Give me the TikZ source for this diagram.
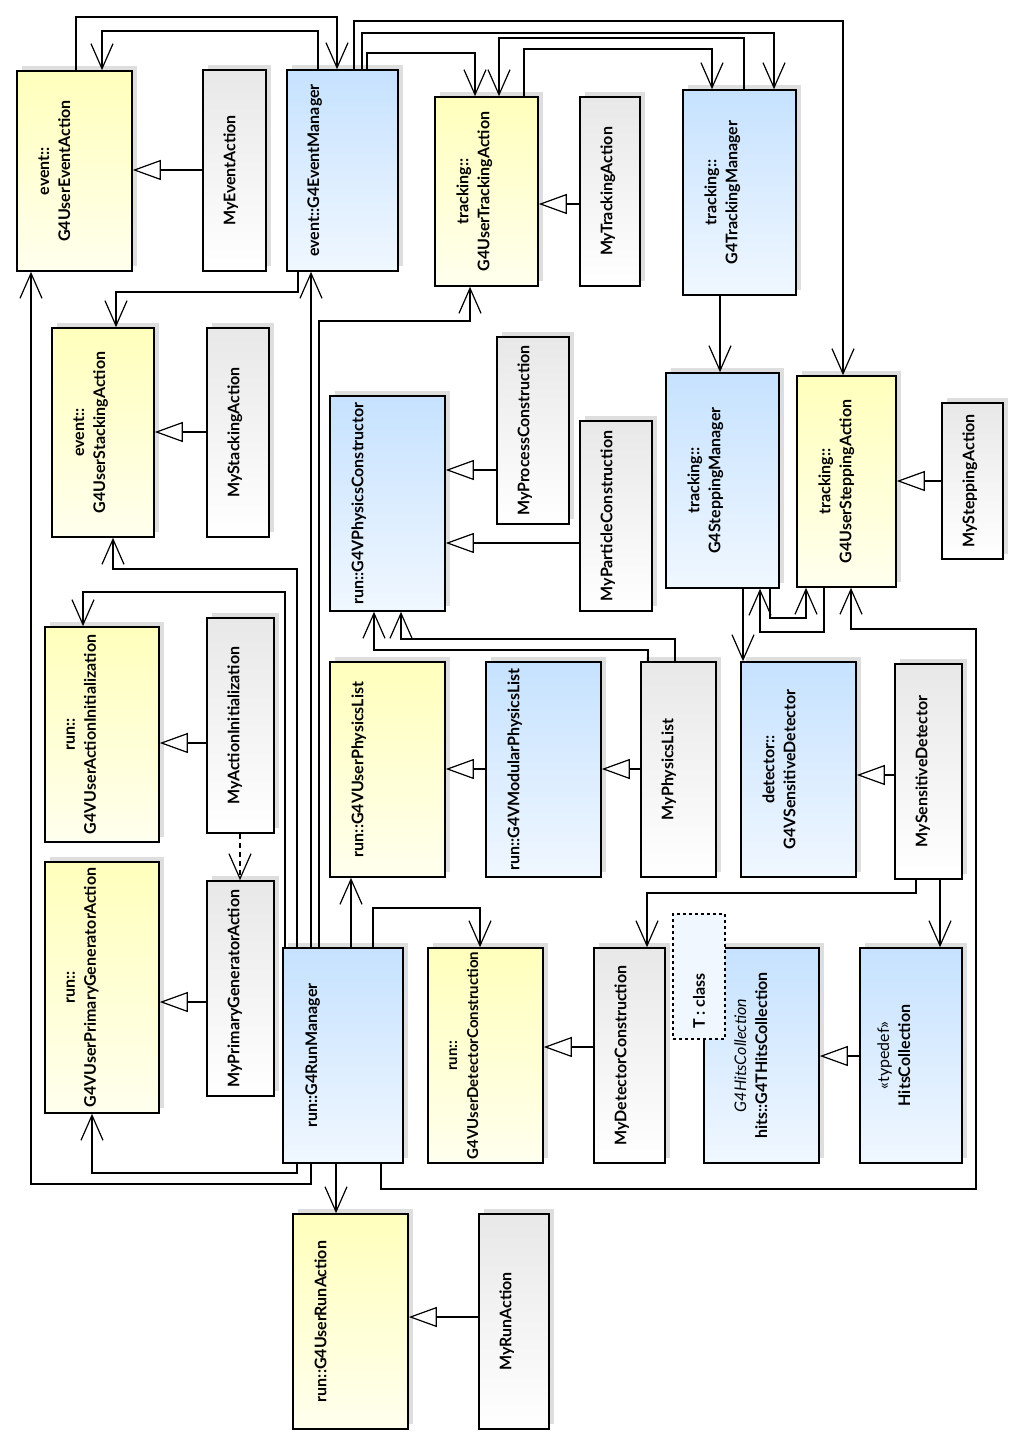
\documentclass[tikz,border=0pt]{standalone}
\usepackage{fontspec}
\setmainfont{Lato}
\usetikzlibrary{arrows.meta,shadows}
\definecolor{ytop}{RGB}{255,255,188}
\definecolor{ybot}{RGB}{255,255,238}
\definecolor{btop}{RGB}{198,226,255}
\definecolor{bbot}{RGB}{240,247,255}
\definecolor{gtop}{RGB}{232,232,232}
\definecolor{shad}{RGB}{222,222,222}
\tikzset{klass/.style={draw, line width=1.6pt, inner sep=0pt,
  drop shadow={shadow xshift=5pt, shadow yshift=5pt, fill=shad, opacity=1}}}
\tikzset{ybox/.style={klass, top color=ytop, bottom color=ybot}}
\tikzset{bbox/.style={klass, top color=btop, bottom color=bbot}}
\tikzset{gbox/.style={klass, top color=gtop, bottom color=white}}
\tikzset{sz/.style 2 args={minimum width=#1pt, minimum height=#2pt}}
\tikzset{lbl/.style={rotate=90, anchor=north, align=center, inner sep=0pt}}
\tikzset{assoc/.style={line width=1.2pt,
  -{Straight Barb[length=25pt,width=22pt,line width=1.2pt]}}}
\tikzset{gen/.style={line width=1.2pt,
  -{Triangle[length=28pt,width=20pt,fill=white,line width=1.2pt]}}}
\tikzset{dep/.style={assoc, dash pattern=on 5pt off 4pt}}

\begin{document}
\begin{tikzpicture}[x=1pt, y=-1pt, font=\fontsize{16pt}{21pt}\selectfont\bfseries]
      \useasboundingbox (0,0) rectangle (1017,1447);
      % event
      \node[ybox, sz={115}{200}] (ueva) at (74.5,171) {};
      \node[lbl] (ueva-l) at ([xshift=22pt]ueva.west) {event::\\G4UserEventAction};
      \node[gbox, sz={63}{201}] (myeva) at (234.5,170.5) {};
      \node[lbl] (myeva-l) at ([xshift=21pt]myeva.west) {MyEventAction};
      \node[bbox, sz={111}{201}] (evm) at (342.5,170.5) {};
      \node[lbl] (evm-l) at ([xshift=21pt]evm.west) {event::G4EventManager};
      \node[ybox, sz={102}{209}] (usa) at (103,432.5) {};
      \node[lbl] (usa-l) at ([xshift=22pt]usa.west) {event::\\G4UserStackingAction};
      \node[gbox, sz={62}{209}] (mysta) at (238,432.5) {};
      \node[lbl] (mysta-l) at ([xshift=21pt]mysta.west) {MyStackingAction};
      % tracking
      \node[ybox, sz={103}{189}] (utra) at (486.5,191.5) {};
      \node[lbl] (utra-l) at ([xshift=22pt]utra.west) {tracking::\\G4UserTrackingAction};
      \node[gbox, sz={60}{189}] (mytra) at (610,191.5) {};
      \node[lbl] (mytra-l) at ([xshift=21pt]mytra.west) {MyTrackingAction};
      \node[bbox, sz={113}{205}] (trm) at (739.5,192.5) {};
      \node[lbl] (trm-l) at ([xshift=22pt]trm.west) {tracking::\\G4TrackingManager};
      \node[bbox, sz={113}{215}] (stm) at (722.5,480.5) {};
      \node[lbl] (stm-l) at ([xshift=22pt]stm.west) {tracking::\\G4SteppingManager};
      \node[ybox, sz={99}{211}] (usta) at (846.5,481.5) {};
      \node[lbl] (usta-l) at ([xshift=22pt]usta.west) {tracking::\\G4UserSteppingAction};
      \node[gbox, sz={61}{156}] (mystep) at (972.5,481) {};
      \node[lbl] (mystep-l) at ([xshift=21pt]mystep.west) {MySteppingAction};
      % physics
      \node[bbox, sz={115}{215}] (pcon) at (387.5,503.5) {};
      \node[lbl] (pcon-l) at ([xshift=22pt]pcon.west) {run::G4VPhysicsConstructor};
      \node[gbox, sz={72}{187}] (myproc) at (533,430.5) {};
      \node[lbl] (myproc-l) at ([xshift=21pt]myproc.west) {MyProcessConstruction};
      \node[gbox, sz={72}{190}] (mypart) at (616,516) {};
      \node[lbl] (mypart-l) at ([xshift=21pt]mypart.west) {MyParticleConstruction};
      \node[ybox, sz={115}{215}] (upl) at (387.5,769.5) {};
      \node[lbl] (upl-l) at ([xshift=22pt]upl.west) {run::G4VUserPhysicsList};
      \node[bbox, sz={115}{215}] (mpl) at (543.5,769.5) {};
      \node[lbl] (mpl-l) at ([xshift=22pt]mpl.west) {run::G4VModularPhysicsList};
      \node[gbox, sz={75}{215}] (mypl) at (678.5,769.5) {};
      \node[lbl] (mypl-l) at ([xshift=21pt]mypl.west) {MyPhysicsList};
      % detector
      \node[bbox, sz={115}{215}] (sdet) at (798.5,769.5) {};
      \node[lbl] (sdet-l) at ([xshift=22pt]sdet.west) {detector::\\G4VSensitiveDetector};
      \node[gbox, sz={67}{215}] (mysd) at (928.5,771.5) {};
      \node[lbl] (mysd-l) at ([xshift=21pt]mysd.west) {MySensitiveDetector};
      % run
      \node[ybox, sz={114}{215}] (uaia) at (102,734.5) {};
      \node[lbl] (uaia-l) at ([xshift=22pt]uaia.west) {run::\\G4VUserActionInitialization};
      \node[gbox, sz={67}{215}] (myai) at (240.5,725.5) {};
      \node[lbl] (myai-l) at ([xshift=21pt]myai.west) {MyActionInitialization};
      \node[ybox, sz={114}{251}] (upga) at (102,987.5) {};
      \node[lbl] (upga-l) at ([xshift=22pt]upga.west) {run::\\G4VUserPrimaryGeneratorAction};
      \node[gbox, sz={67}{215}] (mypga) at (240.5,988.5) {};
      \node[lbl] (mypga-l) at ([xshift=21pt]mypga.west) {MyPrimaryGeneratorAction};
      \node[bbox, sz={120}{215}] (runm) at (343,1055.5) {};
      \node[lbl] (runm-l) at ([xshift=23pt]runm.west) {run::G4RunManager};
      \node[ybox, sz={115}{215}] (udc) at (485.5,1055.5) {};
      \node[lbl, font=\fontsize{15pt}{21pt}\selectfont\bfseries] (udc-l) at ([xshift=22pt]udc.west) {run::\\G4VUserDetectorConstruction};
      \node[gbox, sz={71}{215}] (mydc) at (629.5,1055.5) {};
      \node[lbl] (mydc-l) at ([xshift=21pt]mydc.west) {MyDetectorConstruction};
      \node[ybox, sz={115}{215}] (urun) at (350.5,1321.5) {};
      \node[lbl] (urun-l) at ([xshift=22pt]urun.west) {run::G4UserRunAction};
      \node[gbox, sz={70}{215}] (myrun) at (514,1321.5) {};
      \node[lbl] (myrun-l) at ([xshift=21pt]myrun.west) {MyRunAction};
      % hits
      \node[bbox, sz={115}{215}] (hits) at (761.5,1055.5) {};
      \node[lbl] (hits-l) at ([xshift=31pt]hits.west) {{\normalfont\itshape G4HitsCollection}\\hits::G4THitsCollection};
      \node[draw, dashed, line width=1.4pt, fill=bbot, sz={52}{125}] (tmpl) at (699,976.5) {};
      \node[lbl, anchor=center] (tmpl-l) at (699,1001) {T : class};
      \node[bbox, sz={102}{215}] (hcol) at (911,1055.5) {};
      \node[lbl] (hcol-l) at ([xshift=18pt]hcol.west) {{\normalfont «typedef»}\\HitsCollection};

      % generalizations
      \draw[gen] (myeva.west |- 0,170) -- (ueva.east |- 0,170);
      \draw[gen] (mytra.west |- 0,204) -- (utra.east |- 0,204);
      \draw[gen] (mysta.west |- 0,432) -- (usa.east |- 0,432);
      \draw[gen] (myproc.west |- 0,470) -- (pcon.east |- 0,470);
      \draw[gen] (mypart.west |- 0,543) -- (pcon.east |- 0,543);
      \draw[gen] (mystep.west |- 0,481) -- (usta.east |- 0,481);
      \draw[gen] (myai.west |- 0,743) -- (uaia.east |- 0,743);
      \draw[gen] (mpl.west |- 0,769) -- (upl.east |- 0,769);
      \draw[gen] (mypl.west |- 0,769) -- (mpl.east |- 0,769);
      \draw[gen] (mysd.west |- 0,775) -- (sdet.east |- 0,775);
      \draw[gen] (mypga.west |- 0,1002) -- (upga.east |- 0,1002);
      \draw[gen] (mydc.west |- 0,1047) -- (udc.east |- 0,1047);
      \draw[gen] (hcol.west |- 0,1056) -- (hits.east |- 0,1056);
      \draw[gen] (myrun.west |- 0,1317) -- (urun.east |- 0,1317);

      % associations, top
      \draw[assoc] (ueva.north -| 76,0) |- (337,17) -- (evm.north -| 337,0);
      \draw[assoc] (evm.north -| 318,0) |- (102,31) -- (ueva.north -| 102,0);
      \draw[assoc] (evm.north -| 354,0) |- (843,21) -- (usta.north -| 843,0);
      \draw[assoc] (evm.north -| 362,0) |- (774,33) -- (trm.north -| 774,0);
      \draw[assoc] (evm.north -| 367,0) |- (475,53) -- (utra.north -| 475,0);
      \draw[assoc] (trm.north -| 744,0) |- (499,38) -- (utra.north -| 499,0);
      \draw[assoc] (utra.north -| 524,0) |- (712,49) -- (trm.north -| 712,0);
      \draw[assoc] (trm.south -| 720,0) -- (stm.north -| 720,0);
      \draw[assoc] (evm.south -| 298,0) |- (116,292) -- (usa.north -| 116,0);
      % stepping
      \draw[assoc] (stm.south -| 743,0) -- (sdet.north -| 743,0);
      \draw[assoc] (usta.south -| 824,0) |- (760,632) -- (stm.south -| 760,0);
      \draw[assoc] (stm.south -| 770,0) |- (806,618) -- (usta.south -| 806,0);
      \draw[assoc] (mypl.north -| 648,0) |- (374,650) -- (pcon.south -| 374,0);
      \draw[assoc] (mypl.north -| 675,0) |- (401,639) -- (pcon.south -| 401,0);
      \draw[assoc] (mysd.south -| 916,0) |- (647,893) -- (mydc.north -| 647,0);
      \draw[assoc] (mysd.south -| 940,0) -- (hcol.north -| 940,0);
      \draw[dep] (myai.south -| 240,0) -- (mypga.north -| 240,0);
      % run manager
      \draw[assoc] (runm.north -| 311,0) -- (evm.south -| 311,0);
      \draw[assoc] (runm.north -| 319,0) |- (470,321) -- (utra.south -| 470,0);
      \draw[assoc] (runm.north -| 297,0) |- (113,569) -- (usa.south -| 113,0);
      \draw[assoc] (runm.north -| 285,0) |- (83,592) -- (uaia.north -| 83,0);
      \draw[assoc] (runm.north -| 351,0) -- (upl.south -| 351,0);
      \draw[assoc] (runm.north -| 373,0) |- (480,908) -- (udc.north -| 480,0);
      \draw[assoc] (runm.south -| 297,0) |- (92,1173) -- (upga.south -| 92,0);
      \draw[assoc] (runm.south -| 311,0) |- (31,1184) -- (ueva.south -| 31,0);
      \draw[assoc] (runm.south -| 336,0) -- (urun.north -| 336,0);
      \draw[assoc] (runm.south -| 381,0) |- (976,1189) |- (851,629) -- (usta.south -| 851,0);
    \end{tikzpicture}
\end{document}
